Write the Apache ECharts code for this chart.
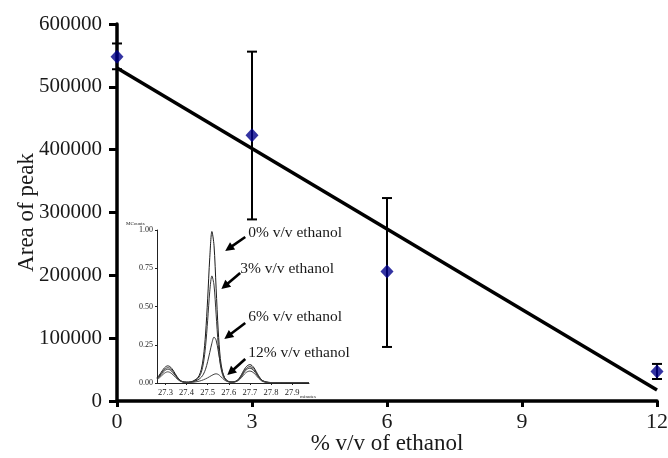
<!DOCTYPE html>
<html><head><meta charset="utf-8">
<script src="https://cdn.jsdelivr.net/npm/echarts@6/dist/echarts.min.js"></script>
<style>html,body{margin:0;padding:0;background:#fff}#c{width:668px;height:458px}</style>
</head><body><div id="c"></div>
<script>
// ---- main chart data ----
const concentrations = [0, 3, 6, 12];
const peakAreas = [548000, 423000, 206000, 47000];
const errLow = [528000, 289000, 86000, 35000];
const errHigh = [569000, 556000, 323000, 59000];
const fitX = [0, 12];
const fitY = [530000, 17500];
const xTickValues = [0, 3, 6, 9, 12];
const yTickValues = [0, 100000, 200000, 300000, 400000, 500000, 600000];

// ---- inset chromatogram data ----
const insetTime = [27.26,27.27,27.28,27.29,27.30,27.31,27.32,27.33,27.34,27.35,27.36,27.37,27.38,27.39,27.40,27.41,27.42,27.43,27.44,27.45,27.46,27.47,27.48,27.49,27.50,27.51,27.52,27.53,27.54,27.55,27.56,27.57,27.58,27.59,27.60,27.61,27.62,27.63,27.64,27.65,27.66,27.67,27.68,27.69,27.70,27.71,27.72,27.73,27.74,27.75,27.76,27.78,27.80,27.85,27.90,27.95,27.98];
const trace0 = [0.035,0.05,0.07,0.09,0.105,0.112,0.108,0.095,0.075,0.052,0.032,0.018,0.01,0.007,0.006,0.006,0.008,0.012,0.02,0.03,0.05,0.09,0.17,0.32,0.55,0.82,0.99,0.90,0.62,0.34,0.16,0.075,0.035,0.018,0.01,0.007,0.007,0.01,0.018,0.032,0.055,0.08,0.102,0.115,0.12,0.114,0.098,0.075,0.05,0.03,0.016,0.006,0.003,0.002,0.002,0.002,0.002];
const trace3 = [0.03,0.045,0.062,0.08,0.093,0.1,0.097,0.085,0.067,0.047,0.029,0.016,0.009,0.006,0.005,0.005,0.007,0.01,0.016,0.025,0.04,0.07,0.13,0.24,0.41,0.60,0.70,0.64,0.45,0.25,0.12,0.056,0.027,0.014,0.008,0.006,0.006,0.009,0.016,0.028,0.048,0.071,0.091,0.103,0.107,0.102,0.088,0.067,0.045,0.027,0.014,0.005,0.003,0.002,0.002,0.002,0.002];
const trace6 = [0.027,0.04,0.056,0.072,0.084,0.09,0.087,0.076,0.06,0.042,0.026,0.014,0.008,0.005,0.004,0.004,0.006,0.008,0.012,0.018,0.026,0.038,0.058,0.09,0.14,0.20,0.26,0.30,0.28,0.21,0.13,0.07,0.035,0.017,0.009,0.006,0.006,0.008,0.014,0.025,0.043,0.064,0.082,0.093,0.097,0.092,0.079,0.06,0.04,0.024,0.012,0.005,0.003,0.002,0.002,0.002,0.002];
const trace12 = [0.022,0.032,0.045,0.058,0.068,0.073,0.07,0.061,0.048,0.034,0.021,0.012,0.007,0.004,0.003,0.003,0.004,0.005,0.007,0.009,0.012,0.016,0.021,0.027,0.034,0.042,0.05,0.057,0.06,0.056,0.045,0.031,0.019,0.011,0.007,0.005,0.005,0.007,0.012,0.021,0.035,0.052,0.066,0.075,0.078,0.074,0.064,0.049,0.033,0.02,0.01,0.004,0.002,0.002,0.002,0.002,0.002];
const insetXTicks = [27.3, 27.4, 27.5, 27.6, 27.7, 27.8, 27.9];
const insetYTicks = [0, 0.25, 0.5, 0.75, 1.0];
const annotationTexts = ['0% v/v ethanol', '3% v/v ethanol', '6% v/v ethanol', '12% v/v ethanol'];
const annotationAnchors = [[27.692, 0.98], [27.654, 0.745], [27.692, 0.431], [27.692, 0.196]];
const arrowTails = [[27.678, 0.954], [27.654, 0.719], [27.678, 0.392], [27.678, 0.157]];
const arrowHeads = [[27.583, 0.863], [27.565, 0.614], [27.579, 0.288], [27.593, 0.052]];

const SERIF = '"Liberation Serif", "DejaVu Serif", serif';
const zip = (a, b) => a.map((v, i) => [v, b[i]]);

const chart = echarts.init(document.getElementById('c'), null, {renderer: 'canvas'});

const option = {
  backgroundColor: '#ffffff',
  animation: false,
  grid: [
    {left: 117, right: 11, top: 24, bottom: 57, containLabel: false, outerBoundsMode: 'none'},
    {left: 157, top: 230, width: 152, height: 153, containLabel: false, outerBoundsMode: 'none'}
  ],
  xAxis: [
    {
      type: 'value', gridIndex: 0, min: 0, max: 12, interval: 3,
      name: '% v/v of ethanol', nameLocation: 'middle', nameGap: 31, nameMoveOverlap: false,
      nameTextStyle: {fontFamily: SERIF, fontSize: 23, color: '#1a1a1a', verticalAlign: 'top'},
      axisLine: {show: true, lineStyle: {color: '#000', width: 3.5}},
      axisTick: {show: true, length: 6, lineStyle: {color: '#000', width: 3}},
      axisLabel: {fontFamily: SERIF, fontSize: 22, color: '#1a1a1a', margin: 10,
        customValues: xTickValues},
      splitLine: {show: false}
    },
    {
      type: 'value', gridIndex: 1, min: 27.26, max: 27.98,
      axisLine: {show: true, onZero: false, lineStyle: {color: '#222', width: 1}},
      axisTick: {show: true, length: 2, customValues: insetXTicks, lineStyle: {color: '#222', width: 1}},
      axisLabel: {fontFamily: SERIF, fontSize: 8.5, color: '#222', margin: 5, hideOverlap: false,
        customValues: insetXTicks, formatter: v => v.toFixed(1)},
      splitLine: {show: false}
    }
  ],
  yAxis: [
    {
      type: 'value', gridIndex: 0, min: 0, max: 600000, interval: 100000,
      name: 'Area of peak', nameLocation: 'middle', nameGap: 79, nameRotate: 90, nameMoveOverlap: false,
      nameTextStyle: {fontFamily: SERIF, fontSize: 23, color: '#1a1a1a'},
      axisLine: {show: true, lineStyle: {color: '#000', width: 3.5}},
      axisTick: {show: true, length: 8, lineStyle: {color: '#000', width: 3}},
      axisLabel: {fontFamily: SERIF, fontSize: 21, color: '#1a1a1a', margin: 15,
        customValues: yTickValues, formatter: v => String(v)},
      splitLine: {show: false}
    },
    {
      type: 'value', gridIndex: 1, min: 0, max: 1.0,
      axisLine: {show: true, onZero: false, lineStyle: {color: '#222', width: 1}},
      axisTick: {show: true, length: 2, customValues: insetYTicks, lineStyle: {color: '#222', width: 1}},
      axisLabel: {fontFamily: SERIF, fontSize: 8, color: '#222', margin: 4, hideOverlap: false,
        customValues: insetYTicks, formatter: v => v.toFixed(2)},
      splitLine: {show: false}
    }
  ],
  series: [
    {
      type: 'line', xAxisIndex: 0, yAxisIndex: 0,
      data: zip(fitX, fitY), showSymbol: false, symbol: 'none',
      lineStyle: {color: '#000', width: 3.5}, z: 3
    },
    {
      type: 'custom', xAxisIndex: 0, yAxisIndex: 0, z: 4,
      data: concentrations.map((c, i) => [c, errLow[i], errHigh[i]]),
      renderItem: function (params, api) {
        const lo = api.coord([api.value(0), api.value(1)]);
        const hi = api.coord([api.value(0), api.value(2)]);
        const hw = 5;
        const st = {stroke: '#000', lineWidth: 2};
        return {
          type: 'group',
          children: [
            {type: 'line', shape: {x1: lo[0], y1: lo[1], x2: hi[0], y2: hi[1]}, style: st},
            {type: 'line', shape: {x1: lo[0] - hw, y1: lo[1], x2: lo[0] + hw, y2: lo[1]}, style: st},
            {type: 'line', shape: {x1: hi[0] - hw, y1: hi[1], x2: hi[0] + hw, y2: hi[1]}, style: st}
          ]
        };
      }
    },
    {
      type: 'scatter', xAxisIndex: 0, yAxisIndex: 0, z: 5,
      data: zip(concentrations, peakAreas),
      symbol: 'diamond', symbolSize: [13, 14],
      itemStyle: {color: '#00008b'}
    },
    {
      type: 'line', xAxisIndex: 1, yAxisIndex: 1, data: zip(insetTime, trace0),
      showSymbol: false, symbol: 'none', smooth: 0.3,
      lineStyle: {color: '#1a1a1a', width: 1},
      markPoint: {
        silent: true, symbol: 'circle', symbolSize: 0,
        label: {show: true, position: 'right', distance: 0,
          fontFamily: SERIF, fontSize: 15.5, color: '#1a1a1a',
          formatter: p => p.name},
        data: annotationAnchors.map((a, i) => ({name: annotationTexts[i], coord: a}))
      }
    },
    {
      type: 'line', xAxisIndex: 1, yAxisIndex: 1, data: zip(insetTime, trace3),
      showSymbol: false, symbol: 'none', smooth: 0.3,
      lineStyle: {color: '#333', width: 1}
    },
    {
      type: 'line', xAxisIndex: 1, yAxisIndex: 1, data: zip(insetTime, trace6),
      showSymbol: false, symbol: 'none', smooth: 0.3,
      lineStyle: {color: '#333', width: 1}
    },
    {
      type: 'line', xAxisIndex: 1, yAxisIndex: 1, data: zip(insetTime, trace12),
      showSymbol: false, symbol: 'none', smooth: 0.3,
      lineStyle: {color: '#444', width: 1}
    },
    {
      // annotation arrows of the inset
      type: 'custom', xAxisIndex: 1, yAxisIndex: 1, z: 6, clip: false, silent: true,
      data: arrowTails.map((t, i) => [t[0], t[1], arrowHeads[i][0], arrowHeads[i][1]]),
      renderItem: function (params, api) {
        const a = api.coord([api.value(0), api.value(1)]);
        const b = api.coord([api.value(2), api.value(3)]);
        const dx = b[0] - a[0], dy = b[1] - a[1];
        const len = Math.sqrt(dx * dx + dy * dy);
        const ux = dx / len, uy = dy / len;
        const hl = 9, hw = 4.5;
        const bx = b[0] - ux * hl, by = b[1] - uy * hl;
        return {
          type: 'group',
          children: [
            {type: 'line', shape: {x1: a[0], y1: a[1], x2: bx + ux, y2: by + uy},
              style: {stroke: '#000', lineWidth: 2.6}},
            {type: 'polygon', shape: {points: [
              [b[0], b[1]],
              [bx - uy * hw, by + ux * hw],
              [bx + uy * hw, by - ux * hw]
            ]}, style: {fill: '#000'}}
          ]
        };
      }
    }
  ]
};
chart.setOption(option);

// small axis captions of the inset, anchored to its axes
const topLeft = chart.convertToPixel({gridIndex: 1}, [27.26, 1.0]);
const bottomRight = chart.convertToPixel({gridIndex: 1}, [27.9, 0]);
chart.setOption({
  graphic: [
    {type: 'text', left: topLeft[0] - 31, top: topLeft[1] - 9,
      style: {text: 'MCounts', font: '5px ' + SERIF, fill: '#222'}},
    {type: 'text', left: bottomRight[0] + 8, top: bottomRight[1] + 11,
      style: {text: 'minutes', font: '5px ' + SERIF, fill: '#222'}}
  ]
});
</script>
</body></html>
